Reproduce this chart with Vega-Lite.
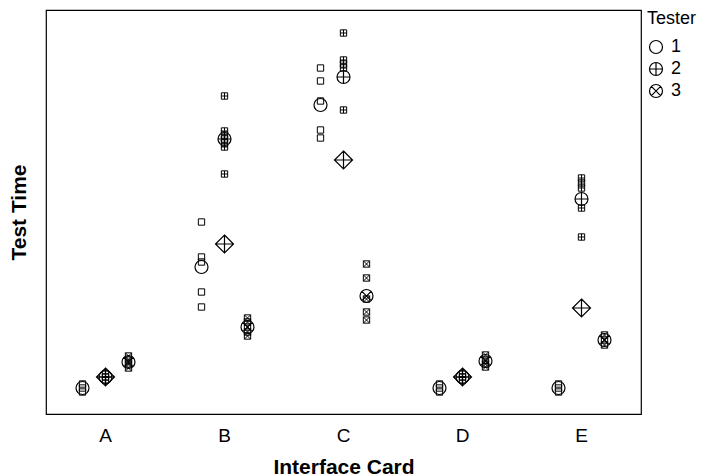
{
  "$schema": "https://vega.github.io/schema/vega-lite/v6.json",
  "width": 595,
  "height": 404,
  "autosize": {"type": "none"},
  "padding": {"left": 46, "top": 10, "right": 70, "bottom": 62},
  "background": "white",
  "config": {
    "font": "Liberation Sans",
    "view": {"stroke": "black", "strokeWidth": 1.2},
    "axis": {"grid": false, "domain": false, "ticks": false, "tickSize": 0}
  },
  "datasets": {
    "obs": [
      {"card": "A", "tester": "1", "time": 30}, {"card": "A", "tester": "1", "time": 26}, {"card": "A", "tester": "1", "time": 22},
      {"card": "A", "tester": "2", "time": 40}, {"card": "A", "tester": "2", "time": 37}, {"card": "A", "tester": "2", "time": 34},
      {"card": "A", "tester": "3", "time": 58}, {"card": "A", "tester": "3", "time": 54}, {"card": "A", "tester": "3", "time": 50}, {"card": "A", "tester": "3", "time": 46},
      {"card": "B", "tester": "1", "time": 192}, {"card": "B", "tester": "1", "time": 157}, {"card": "B", "tester": "1", "time": 152}, {"card": "B", "tester": "1", "time": 122}, {"card": "B", "tester": "1", "time": 107},
      {"card": "B", "tester": "2", "time": 318}, {"card": "B", "tester": "2", "time": 283}, {"card": "B", "tester": "2", "time": 279}, {"card": "B", "tester": "2", "time": 275}, {"card": "B", "tester": "2", "time": 271}, {"card": "B", "tester": "2", "time": 267}, {"card": "B", "tester": "2", "time": 240},
      {"card": "B", "tester": "3", "time": 96}, {"card": "B", "tester": "3", "time": 92}, {"card": "B", "tester": "3", "time": 87}, {"card": "B", "tester": "3", "time": 82}, {"card": "B", "tester": "3", "time": 78},
      {"card": "C", "tester": "1", "time": 346}, {"card": "C", "tester": "1", "time": 333}, {"card": "C", "tester": "1", "time": 313}, {"card": "C", "tester": "1", "time": 284}, {"card": "C", "tester": "1", "time": 276},
      {"card": "C", "tester": "2", "time": 381}, {"card": "C", "tester": "2", "time": 354}, {"card": "C", "tester": "2", "time": 350}, {"card": "C", "tester": "2", "time": 346}, {"card": "C", "tester": "2", "time": 304},
      {"card": "C", "tester": "3", "time": 150}, {"card": "C", "tester": "3", "time": 136}, {"card": "C", "tester": "3", "time": 115}, {"card": "C", "tester": "3", "time": 102}, {"card": "C", "tester": "3", "time": 94},
      {"card": "D", "tester": "1", "time": 30}, {"card": "D", "tester": "1", "time": 26}, {"card": "D", "tester": "1", "time": 22},
      {"card": "D", "tester": "2", "time": 40}, {"card": "D", "tester": "2", "time": 37}, {"card": "D", "tester": "2", "time": 34},
      {"card": "D", "tester": "3", "time": 59}, {"card": "D", "tester": "3", "time": 54}, {"card": "D", "tester": "3", "time": 50}, {"card": "D", "tester": "3", "time": 47},
      {"card": "E", "tester": "1", "time": 30}, {"card": "E", "tester": "1", "time": 26}, {"card": "E", "tester": "1", "time": 22},
      {"card": "E", "tester": "2", "time": 236}, {"card": "E", "tester": "2", "time": 231}, {"card": "E", "tester": "2", "time": 226}, {"card": "E", "tester": "2", "time": 206}, {"card": "E", "tester": "2", "time": 177},
      {"card": "E", "tester": "3", "time": 79}, {"card": "E", "tester": "3", "time": 74}, {"card": "E", "tester": "3", "time": 69}
    ],
    "testerMeans": [
      {"card": "A", "tester": "1", "time": 26}, {"card": "A", "tester": "2", "time": 37}, {"card": "A", "tester": "3", "time": 52},
      {"card": "B", "tester": "1", "time": 147}, {"card": "B", "tester": "2", "time": 275}, {"card": "B", "tester": "3", "time": 87},
      {"card": "C", "tester": "1", "time": 309}, {"card": "C", "tester": "2", "time": 337}, {"card": "C", "tester": "3", "time": 118},
      {"card": "D", "tester": "1", "time": 26}, {"card": "D", "tester": "2", "time": 37}, {"card": "D", "tester": "3", "time": 53},
      {"card": "E", "tester": "1", "time": 26}, {"card": "E", "tester": "2", "time": 215}, {"card": "E", "tester": "3", "time": 74}
    ],
    "cardMeans": [
      {"card": "A", "time": 37}, {"card": "B", "time": 170}, {"card": "C", "time": 254}, {"card": "D", "time": 37}, {"card": "E", "time": 106}
    ]
  },
  "encoding": {
    "x": {
      "field": "card", "type": "nominal",
      "scale": {"type": "band", "paddingInner": 0, "paddingOuter": 0},
      "axis": {"title": "Interface Card", "labelAngle": 0, "labelFontSize": 19, "labelPadding": 12, "labelColor": "black",
               "titleFontSize": 21, "titleFontWeight": "bold", "titlePadding": 11, "titleColor": "black"}
    },
    "y": {
      "field": "time", "type": "quantitative",
      "scale": {"domain": [0, 404], "nice": false, "zero": false},
      "axis": {"title": "Test Time", "labels": false, "titleFontSize": 21, "titleFontWeight": "bold", "titlePadding": 17, "titleColor": "black"}
    }
  },
  "layer": [
    {
      "data": {"name": "obs"},
      "mark": {"type": "point", "filled": false, "color": "black", "opacity": 1, "strokeWidth": 1, "size": 40},
      "encoding": {
        "xOffset": {"field": "tester", "type": "nominal", "scale": {"type": "point", "domain": ["1", "2", "3"], "range": [36.5, 82.5], "padding": 0}},
        "shape": {
          "field": "tester", "type": "nominal",
          "scale": {"domain": ["1", "2", "3"], "range": [
            "M-1,-1H1V1H-1Z",
            "M-1,-1H1V1H-1ZM-1,0H1M0,-1V1",
            "M-1,-1H1V1H-1ZM-1,-1L1,1M-1,1L1,-1"
          ]},
          "legend": null
        }
      }
    },
    {
      "data": {"name": "testerMeans"},
      "mark": {"type": "point", "filled": false, "color": "black", "opacity": 1, "strokeWidth": 1.2, "size": 169},
      "encoding": {
        "xOffset": {"field": "tester", "type": "nominal", "scale": {"type": "point", "domain": ["1", "2", "3"], "range": [36.5, 82.5], "padding": 0}},
        "shape": {
          "field": "tester", "type": "nominal",
          "scale": {"domain": ["1", "2", "3"], "range": [
            "circle",
            "M-1,0A1,1 0 1,0 1,0A1,1 0 1,0 -1,0M-1,0L1,0M0,-1L0,1",
            "M-1,0A1,1 0 1,0 1,0A1,1 0 1,0 -1,0M-0.707,-0.707L0.707,0.707M-0.707,0.707L0.707,-0.707"
          ]},
          "legend": {
            "title": "Tester", "orient": "none", "legendX": 601, "legendY": 0,
            "titleFontSize": 18, "titleFontWeight": "normal", "titleColor": "black", "titlePadding": 10,
            "labelFontSize": 18, "labelColor": "black", "labelOffset": 6,
            "symbolSize": 169, "symbolStrokeWidth": 1.2, "symbolStrokeColor": "black", "symbolFillColor": "transparent",
            "rowPadding": 4
          }
        }
      }
    },
    {
      "data": {"name": "cardMeans"},
      "mark": {"type": "point", "filled": false, "color": "black", "opacity": 1, "strokeWidth": 1.2, "size": 324,
               "shape": "M0,-1L1,0L0,1L-1,0ZM-1,0L1,0M0,-1L0,1"},
      "encoding": {}
    }
  ],
  "resolve": {"scale": {"shape": "independent", "xOffset": "shared"}}
}
